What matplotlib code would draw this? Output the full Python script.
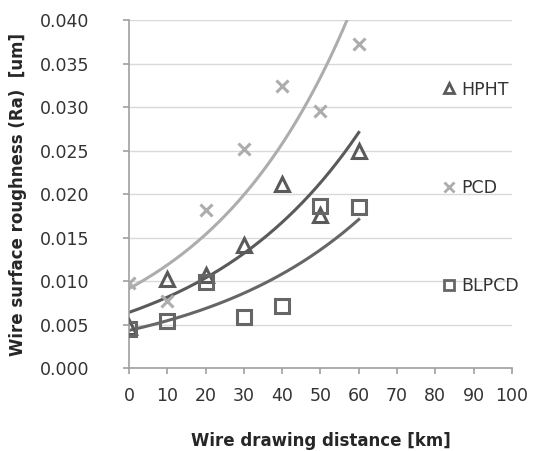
import matplotlib.pyplot as plt
import numpy as np
from matplotlib.lines import Line2D

# wire drawing distance [km]
distance = [0, 10, 20, 30, 40, 50, 60]
# surface roughness Ra [um]
hpht = [0.0048, 0.0103, 0.0107, 0.0142, 0.0212, 0.0176, 0.0250]
pcd = [0.0098, 0.0078, 0.0182, 0.0252, 0.0324, 0.0295, 0.0372]
blpcd = [0.0045, 0.0055, 0.0099, 0.0059, 0.0072, 0.0187, 0.0185]

x_ticks = list(range(0, 101, 10))
y_ticks = [0.000, 0.005, 0.010, 0.015, 0.020, 0.025, 0.030, 0.035, 0.040]

HPHT_COL = '#5a5a5a'
PCD_COL = '#adadad'
BLPCD_COL = '#666666'


def exp_trend(x, y, xs):
    # Excel style exponential trendline: fit on log(y)
    b, ln_a = np.polyfit(x, np.log(y), 1)
    return np.exp(ln_a) * np.exp(b * xs)


fig = plt.figure(figsize=(5.34, 4.51), dpi=100)
ax = fig.add_axes([0.2416, 0.183, 0.717, 0.7727])

xs = np.linspace(0, 60, 200)
ax.plot(xs, exp_trend(distance, pcd, xs), color=PCD_COL, lw=2.2, zorder=2)
ax.plot(xs, exp_trend(distance, hpht, xs), color=HPHT_COL, lw=2.2, zorder=2)
ax.plot(xs, exp_trend(distance, blpcd, xs), color=BLPCD_COL, lw=2.2, zorder=2)

ax.plot(distance, hpht, ls='none', marker='^', ms=10, mfc='none', mec=HPHT_COL, mew=2.2, zorder=3)
ax.plot(distance, pcd, ls='none', marker='x', ms=9, mec=PCD_COL, mew=2.2, zorder=3)
ax.plot(distance, blpcd, ls='none', marker='s', ms=9.5, mfc='none', mec=BLPCD_COL, mew=2.2, zorder=3)

ax.set_xlim(0, 100)
ax.set_ylim(0, 0.040)
ax.set_xticks(x_ticks)
ax.set_yticks(y_ticks)
ax.set_yticklabels(['%.3f' % v for v in y_ticks])
ax.tick_params(labelsize=12.5, colors='#333333', length=4.5, color='#a0a0a0', width=1.2)
ax.tick_params(axis='x', pad=9)
ax.tick_params(axis='y', pad=24)

ax.grid(axis='y', color='#d9d9d9', lw=1)
ax.set_axisbelow(True)
for s in ['top', 'right']:
    ax.spines[s].set_visible(False)
for s in ['left', 'bottom']:
    ax.spines[s].set_color('#a0a0a0')
    ax.spines[s].set_linewidth(1.2)

ax.set_xlabel('Wire drawing distance [km]', fontsize=12, fontweight='bold', color='#262626', labelpad=19)
ax.set_ylabel('Wire surface roughness (Ra)  [um]', fontsize=12, fontweight='bold', color='#262626', labelpad=9)

handles = [
    Line2D([], [], ls='none', marker='^', ms=7.5, mfc='none', mec=HPHT_COL, mew=2),
    Line2D([], [], ls='none', marker='x', ms=7.5, mec=PCD_COL, mew=2),
    Line2D([], [], ls='none', marker='s', ms=7.5, mfc='none', mec=BLPCD_COL, mew=2),
]
leg = ax.legend(handles, ['HPHT', 'PCD', 'BLPCD'], loc='upper left', bbox_to_anchor=(0.776, 0.871),
                frameon=False, fontsize=12.5, labelspacing=4.63, handlelength=0.8, handletextpad=0.3)
for t in leg.get_texts():
    t.set_color('#333333')

fig.savefig('out.png', dpi=100)
